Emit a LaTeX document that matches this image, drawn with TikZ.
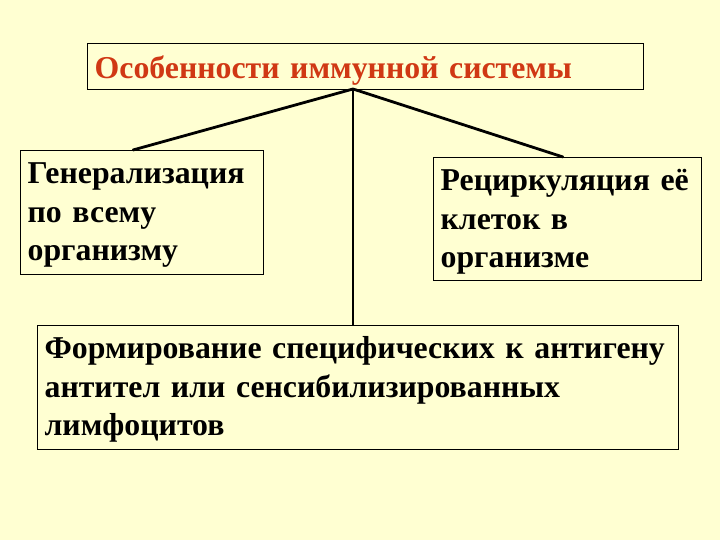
\documentclass[tikz,border=0pt]{standalone}
\usepackage{fontspec}
\setmainfont[WordSpace=0.85]{Liberation Serif}
\definecolor{bg}{RGB}{255,255,210}
\definecolor{titlered}{RGB}{208,56,20}
\newcommand{\topstrut}[1]{\rule{0pt}{#1}}
\newcommand{\botstrut}[1]{\rule[-#1]{0pt}{#1}}
\begin{document}
\begin{tikzpicture}[x=1pt,y=-1pt,
  box/.style={draw=black, line width=1.3pt, anchor=north west, align=left, inner xsep=7pt, inner ysep=0pt,
    font=\fontsize{31.8}{38.5}\selectfont\bfseries},
  conn/.style={line width=2.8pt, line cap=round}]
\fill[bg] (0,0) rectangle (720,540);
\useasboundingbox (0,0) rectangle (720,540);
\node[box, text=titlered, minimum width=556pt, text width=542pt] (t) at (87,43)
  {\topstrut{35pt}Особенности иммунной системы\botstrut{11pt}};
\node[box, minimum width=243pt, text width=229pt] (l) at (20,150)
  {\topstrut{33pt}Генерализация\\по всему\\организму\botstrut{14pt}};
\node[box, minimum width=268pt, text width=254pt] (r) at (433,157)
  {\topstrut{33pt}Рециркуляция её\\клеток в\\организме\botstrut{13pt}};
\node[box, minimum width=641pt, text width=627pt] (b) at (37,325)
  {\topstrut{33pt}Формирование специфических к антигену\\антител или сенсибилизированных\\лимфоцитов\botstrut{14pt}};
\coordinate (top) at (353,89);
\coordinate (lt) at (133,150);
\coordinate (rt) at (563,157);
\draw[conn] (top) -- (lt);
\draw[conn] (top) -- (rt);
\draw[line width=2pt] (top) -- (top |- b.north);
\end{tikzpicture}
\end{document}
